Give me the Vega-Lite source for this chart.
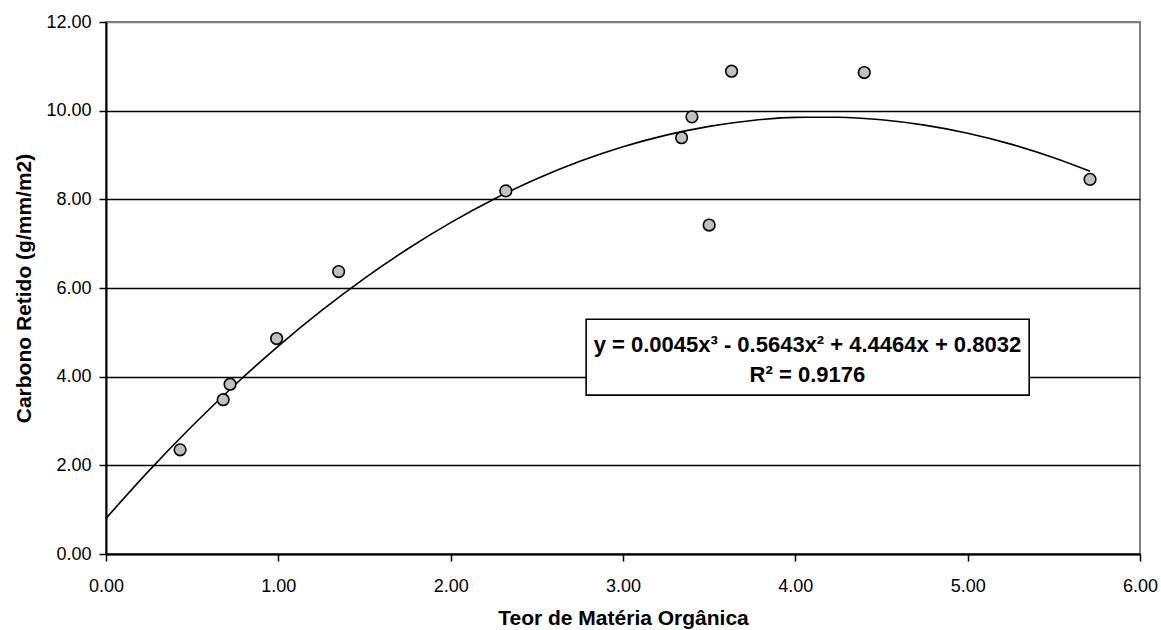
{
  "$schema": "https://vega.github.io/schema/vega-lite/v6.json",
  "autosize": "none",
  "padding": {"left": 106, "top": 22, "right": 21, "bottom": 76},
  "width": 1034,
  "height": 532,
  "background": "white",
  "config": {
    "font": "Liberation Sans",
    "view": {"stroke": "#808080", "strokeWidth": 2}
  },
  "datasets": {
    "pts": [
      {"mo": 0.43, "c": 2.35},
      {"mo": 0.68, "c": 3.48},
      {"mo": 0.72, "c": 3.83},
      {"mo": 0.99, "c": 4.86},
      {"mo": 1.35, "c": 6.37},
      {"mo": 2.32, "c": 8.19},
      {"mo": 3.34, "c": 9.39},
      {"mo": 3.40, "c": 9.86},
      {"mo": 3.50, "c": 7.42},
      {"mo": 3.63, "c": 10.89},
      {"mo": 4.40, "c": 10.86},
      {"mo": 5.71, "c": 8.45}
    ],
    "trend": [
      {"mo": 0.0, "c": 0.803},
      {"mo": 0.25, "c": 1.880},
      {"mo": 0.5, "c": 2.886},
      {"mo": 0.75, "c": 3.823},
      {"mo": 1.0, "c": 4.690},
      {"mo": 1.25, "c": 5.488},
      {"mo": 1.5, "c": 6.218},
      {"mo": 1.75, "c": 6.880},
      {"mo": 2.0, "c": 7.475},
      {"mo": 2.25, "c": 8.002},
      {"mo": 2.5, "c": 8.463},
      {"mo": 2.75, "c": 8.857},
      {"mo": 3.0, "c": 9.185},
      {"mo": 3.25, "c": 9.448},
      {"mo": 3.5, "c": 9.646},
      {"mo": 3.75, "c": 9.779},
      {"mo": 4.0, "c": 9.848},
      {"mo": 4.25, "c": 9.853},
      {"mo": 4.5, "c": 9.795},
      {"mo": 4.75, "c": 9.674},
      {"mo": 5.0, "c": 9.490},
      {"mo": 5.25, "c": 9.245},
      {"mo": 5.5, "c": 8.937},
      {"mo": 5.71, "c": 8.632}
    ],
    "box": [
      {"x1": 2.786, "x2": 5.357, "y1": 3.583, "y2": 5.295}
    ],
    "eq": [
      {"mo": 4.07, "c": 4.71, "label": "y = 0.0045x³ - 0.5643x² + 4.4464x + 0.8032"},
      {"mo": 4.07, "c": 4.03, "label": "R² = 0.9176"}
    ]
  },
  "layer": [
    {
      "data": {"name": "trend"},
      "mark": {"type": "line", "color": "black", "strokeWidth": 1.6, "interpolate": "monotone"},
      "encoding": {
        "x": {
          "field": "mo", "type": "quantitative",
          "scale": {"domain": [0, 6], "nice": false, "zero": false},
          "axis": {
            "title": "Teor de Matéria Orgânica",
            "values": [0, 1, 2, 3, 4, 5, 6],
            "format": ".2f",
            "grid": false,
            "labelFlush": false,
            "labelOverlap": false,
            "domainColor": "black", "domainWidth": 2,
            "tickColor": "black", "tickWidth": 1.5, "tickSize": 7,
            "labelFontSize": 18, "labelColor": "black", "labelPadding": 16,
            "titleFontSize": 21, "titleFontWeight": "bold", "titleColor": "black", "titlePadding": 12
          }
        },
        "y": {
          "field": "c", "type": "quantitative",
          "scale": {"domain": [0, 12], "nice": false, "zero": false},
          "axis": {
            "title": "Carbono Retido (g/mm/m2)",
            "values": [0, 2, 4, 6, 8, 10, 12],
            "format": ".2f",
            "grid": true,
            "labelFlush": false,
            "labelOverlap": false,
            "gridColor": {"condition": {"test": "datum.value == 12", "value": "#808080"}, "value": "black"},
            "gridWidth": 1.5,
            "domainColor": "black", "domainWidth": 2,
            "tickColor": "black", "tickWidth": 1.5, "tickSize": 7,
            "labelFontSize": 18, "labelColor": "black", "labelPadding": 8,
            "titleFontSize": 21, "titleFontWeight": "bold", "titleColor": "black", "titlePadding": 11
          }
        }
      }
    },
    {
      "data": {"name": "pts"},
      "mark": {"type": "point", "shape": "circle", "filled": true, "fill": "#c0c0c0", "stroke": "black", "strokeWidth": 1.6, "size": 135, "opacity": 1},
      "encoding": {
        "x": {"field": "mo", "type": "quantitative"},
        "y": {"field": "c", "type": "quantitative"}
      }
    },
    {
      "data": {"name": "box"},
      "mark": {"type": "rect", "fill": "white", "stroke": "black", "strokeWidth": 1.6},
      "encoding": {
        "x": {"field": "x1", "type": "quantitative"},
        "x2": {"field": "x2"},
        "y": {"field": "y1", "type": "quantitative"},
        "y2": {"field": "y2"}
      }
    },
    {
      "data": {"name": "eq"},
      "mark": {"type": "text", "fontSize": 22, "fontWeight": "bold", "color": "black", "align": "center", "baseline": "middle"},
      "encoding": {
        "x": {"field": "mo", "type": "quantitative"},
        "y": {"field": "c", "type": "quantitative"},
        "text": {"field": "label"}
      }
    }
  ]
}
